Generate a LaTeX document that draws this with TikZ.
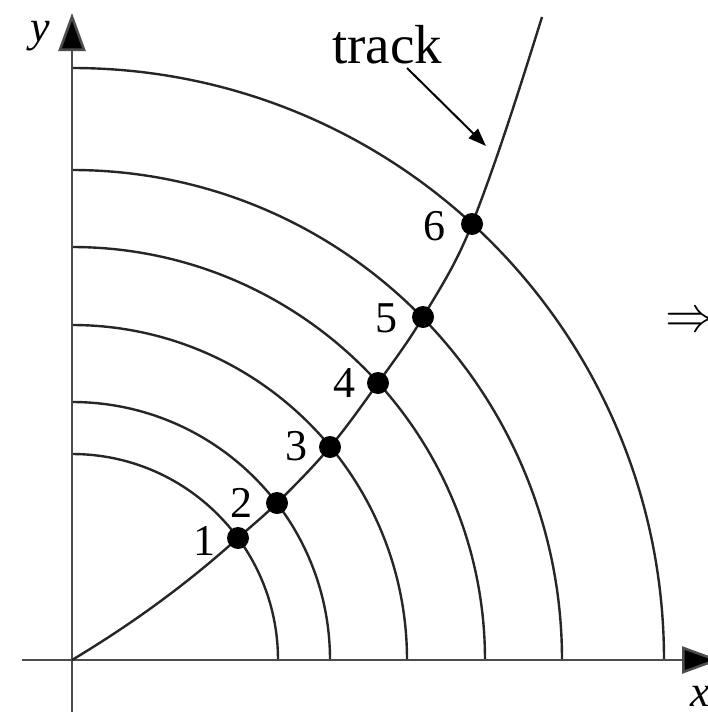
\documentclass[tikz,border=0pt]{standalone}
\usepackage{fontspec}
\setmainfont{Liberation Serif}
\usetikzlibrary{arrows.meta}
\begin{document}
\begin{tikzpicture}[x=1pt,y=-1pt,
  ln/.style={line width=2.4pt,black!85},
  ax/.style={line width=2.6pt,black!70,-{Triangle[length=38pt,width=27pt,fill=black]}},
  dot/.style={circle,fill=black,inner sep=0pt,minimum size=22pt},
  lbl/.style={font=\fontsize{44}{50}\selectfont},
  ]
\useasboundingbox (0,0) rectangle (708,712);
\clip (0,0) rectangle (708,712);
\coordinate (O) at (72,660);
\coordinate (c1) at (238,538);
\coordinate (c2) at (277,503);
\coordinate (c3) at (330,447);
\coordinate (c4) at (378,383);
\coordinate (c5) at (423,317);
\coordinate (c6) at (472,224);
\coordinate (tend) at (542,17);
% arcs
\foreach \r in {206,258,335,413,490,592}
  \draw[ln] (72+\r,660) arc (0:-90:\r);
% axes
\draw[ax] (22,660) -- (720,660);
\draw[ax] (72,720) -- (72,13);
% track
\draw[ln] (O) .. controls (127.3,626.8) and (182.7,587.8) .. (c1)
  .. controls (251,526.3) and (264,515.9) .. (c2)
  .. controls (294.7,485.5) and (312.3,468) .. (c3)
  .. controls (346,428) and (362,405.4) .. (c4)
  .. controls (393,362) and (408,342.4) .. (c5)
  .. controls (439.3,289.4) and (455.7,265.2) .. (c6)
  .. controls (495.3,165.2) and (518.7,91.7) .. (tend);
% points
\node[dot] (p1) at (c1) {};
\node[dot] (p2) at (c2) {};
\node[dot] (p3) at (c3) {};
\node[dot] (p4) at (c4) {};
\node[dot] (p5) at (c5) {};
\node[dot] (p6) at (c6) {};
\node[lbl] (l1) at (204,541) {1};
\node[lbl] (l2) at (241,503) {2};
\node[lbl] (l3) at (296,446) {3};
\node[lbl] (l4) at (344,383) {4};
\node[lbl] (l5) at (386,318) {5};
\node[lbl] (l6) at (434,226) {6};
% track label
\node[font=\fontsize{55}{60}\selectfont] (tr) at (387,45) {track};
\coordinate (ta) at (486,146);
\draw[line width=2pt,-{Triangle[length=18pt,width=13pt]}] (407,68) -- (ta);
% axis labels
\node[lbl] (ylab) at (40,36) {\itshape y};
\node[lbl] (xlab) at (700,696) {\itshape x};
\node[scale=2,font=\Huge] (imp) at (690,322) {$\Rightarrow$};
\end{tikzpicture}
\end{document}
